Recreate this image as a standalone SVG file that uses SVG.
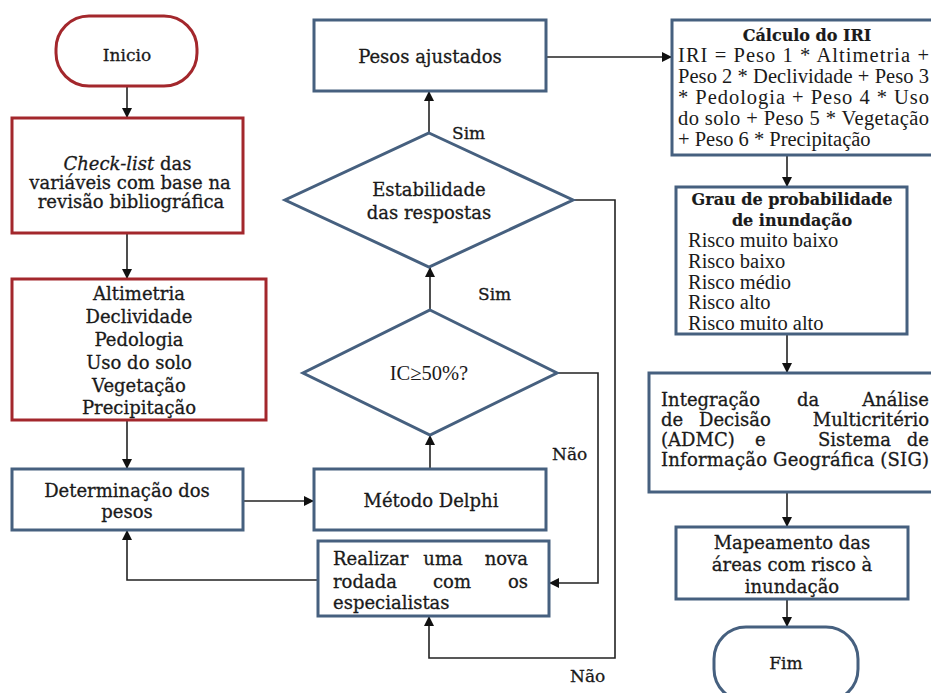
<svg xmlns="http://www.w3.org/2000/svg" width="931" height="693" viewBox="0 0 931 693">
<defs>
<marker id="ah" markerWidth="10" markerHeight="10" refX="10" refY="5" orient="auto" markerUnits="userSpaceOnUse">
<path d="M0,0 L10,5 L0,10 z" fill="#111"/>
</marker>
<style>
.red{fill:#fff;stroke:#a3272c;stroke-width:3}
.blue{fill:#fff;stroke:#46607f;stroke-width:3}
.t{font-family:"DejaVu Serif","Liberation Serif",serif;font-size:18px;fill:#1a1a1a;stroke:#1a1a1a;stroke-width:0.3}
.s{font-size:17px}
.c{text-anchor:middle}
.tm{font-family:"Liberation Serif","Times New Roman",serif;font-size:20.5px;fill:#1a1a1a}
.b{font-weight:bold;font-size:16px;stroke-width:0.2}
.con{fill:none;stroke:#222;stroke-width:1.6}
.arr{marker-end:url(#ah)}
</style>
</defs>
<rect width="931" height="693" fill="#fff"/>

<g id="connectors">
<path class="con arr" d="M127,86 V118"/>
<path class="con arr" d="M127,233 V279"/>
<path class="con arr" d="M127,420 V469"/>
<path class="con arr" d="M243,501 H314"/>
<path class="con arr" d="M430,469 V435"/>
<path class="con arr" d="M430,310 V267"/>
<path class="con arr" d="M429,133 V91"/>
<path class="con arr" d="M546,57 H672"/>
<path class="con arr" d="M787,155 V187"/>
<path class="con arr" d="M787,334 V373"/>
<path class="con arr" d="M787,492 V527"/>
<path class="con arr" d="M787,599 V627"/>
<path class="con arr" d="M557,373 H598 V583 H549"/>
<path class="con arr" d="M573,200 H615 V658 H429 V616"/>
<path class="con arr" d="M318,580 H127 V530"/>
<text class="t s" x="452" y="139">Sim</text>
<text class="t s" x="478" y="300">Sim</text>
<text class="t s" x="552" y="460">Não</text>
<text class="t s" x="570" y="682">Não</text>
</g>

<g id="inicio">
<rect class="red" x="56" y="16" width="141" height="70" rx="33" ry="33"/>
<text class="t s c" x="127" y="61">Inicio</text>
</g>

<g id="checklist">
<rect class="red" x="12" y="118" width="231" height="115"/>
<text class="t c" x="127.5" y="170" font-size="17.5"><tspan font-style="italic">Check-list</tspan> das</text>
<text class="t c" x="130" y="189" font-size="17.5">variáveis com base na</text>
<text class="t c" x="131" y="208" font-size="17.5">revisão bibliográfica</text>
</g>

<g id="variaveis">
<rect class="red" x="12" y="279" width="254" height="141"/>
<text class="t c" x="139" y="300">Altimetria</text>
<text class="t c" x="139" y="323">Declividade</text>
<text class="t c" x="139" y="346">Pedologia</text>
<text class="t c" x="139" y="369">Uso do solo</text>
<text class="t c" x="139" y="392">Vegetação</text>
<text class="t c" x="139" y="414">Precipitação</text>
</g>

<g id="determinacao">
<rect class="blue" x="12" y="469" width="231" height="61"/>
<text class="t c" x="127" y="497">Determinação dos</text>
<text class="t c" x="127" y="518">pesos</text>
</g>

<g id="delphi">
<rect class="blue" x="314" y="469" width="232" height="61"/>
<text class="t c" x="431" y="507">Método Delphi</text>
</g>

<g id="realizar">
<rect class="blue" x="318" y="541" width="231" height="75"/>
<text class="t" x="333" y="565">Realizar</text>
<text class="t c" x="443" y="565">uma</text>
<text class="t" x="528" y="565" text-anchor="end">nova</text>
<text class="t" x="333" y="588">rodada</text>
<text class="t c" x="452" y="588">com</text>
<text class="t" x="528" y="588" text-anchor="end">os</text>
<text class="t" x="333" y="609">especialistas</text>
</g>

<g id="ic">
<polygon class="blue" points="430,310 557,373 430,435 303,373"/>
<text class="tm c" x="429" y="380" font-size="21.5">IC≥50%?</text>
</g>

<g id="estabilidade">
<polygon class="blue" points="429,133 573,200 429,267 285,200"/>
<text class="t c" x="429" y="196">Estabilidade</text>
<text class="t c" x="429" y="219">das respostas</text>
</g>

<g id="pesos">
<rect class="blue" x="314" y="20" width="232" height="71"/>
<text class="t c" x="430" y="63">Pesos ajustados</text>
</g>

<g id="calculo">
<rect class="blue" x="672" y="20" width="268" height="135"/>
<text class="t c b" x="807" y="41">Cálculo do IRI</text>
<text class="tm" x="678" y="62" textLength="251" lengthAdjust="spacing">IRI = Peso 1 * Altimetria +</text>
<text class="tm" x="678" y="83" textLength="251" lengthAdjust="spacing">Peso 2 * Declividade + Peso 3</text>
<text class="tm" x="678" y="104" textLength="251" lengthAdjust="spacing">* Pedologia + Peso 4 * Uso</text>
<text class="tm" x="678" y="125" textLength="251" lengthAdjust="spacing">do solo + Peso 5 * Vegetação</text>
<text class="tm" x="678" y="146">+ Peso 6 * Precipitação</text>
</g>

<g id="grau">
<rect class="blue" x="676" y="187" width="231" height="147"/>
<text class="t c b" x="792" y="205">Grau de probabilidade</text>
<text class="t c b" x="792" y="226">de inundação</text>
<text class="tm" x="688" y="247">Risco muito baixo</text>
<text class="tm" x="688" y="268">Risco baixo</text>
<text class="tm" x="688" y="289">Risco médio</text>
<text class="tm" x="688" y="309">Risco alto</text>
<text class="tm" x="688" y="330">Risco muito alto</text>
</g>

<g id="integracao">
<rect class="blue" x="649" y="373" width="295" height="119"/>
<text class="t" x="661" y="406">Integração</text>
<text class="t" x="797" y="406">da</text>
<text class="t" x="929" y="406" text-anchor="end">Análise</text>
<text class="t" x="661" y="426">de</text>
<text class="t" x="699" y="426">Decisão</text>
<text class="t" x="929" y="426" text-anchor="end">Multicritério</text>
<text class="t" x="661" y="446">(ADMC)</text>
<text class="t" x="755" y="446">e</text>
<text class="t" x="818" y="446">Sistema</text>
<text class="t" x="929" y="446" text-anchor="end">de</text>
<text class="t" x="661" y="466" textLength="268" lengthAdjust="spacing">Informação Geográfica (SIG)</text>
</g>

<g id="mapeamento">
<rect class="blue" x="676" y="527" width="232" height="72"/>
<text class="t c" x="792" y="549">Mapeamento das</text>
<text class="t c" x="792" y="571">áreas com risco à</text>
<text class="t c" x="792" y="593">inundação</text>
</g>

<g id="fim">
<rect class="blue" x="714" y="627" width="144" height="74" rx="32" ry="32"/>
<text class="t s c" x="786" y="669">Fim</text>
</g>
</svg>
